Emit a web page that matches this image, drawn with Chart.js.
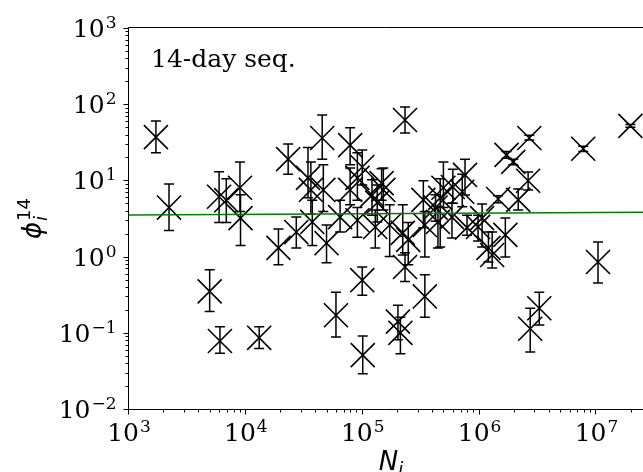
<!DOCTYPE html>
<html lang="en">
<head>
<meta charset="UTF-8">
<title>phi_i^14 vs N_i</title>
<script src="https://cdn.jsdelivr.net/npm/chart.js"></script>
<style>
    body { margin: 0; background: #fff; }
    .chart-container { position: relative; width: 643px; height: 472px; }
</style>
</head>
<body>
<div class="chart-container">
    <canvas id="chart"></canvas>
</div>
<script>
// N_i and phi_i^14, plus lower / upper end of each error bar
var N = [1.7e3, 2.2e3, 4.9e3, 6.0e3, 1.3e4, 5.9e3, 6.8e3, 8.9e3, 9.0e3, 1.9e4,
         2.3e4, 4.5e4, 7.8e4, 2.3e5, 3.4e4, 3.6e4, 4.6e4, 2.7e4, 3.7e4, 4.9e4,
         6.4e4, 9.0e4, 9.0e4, 9.9e4, 7.8e4, 1.2e5, 1.5e5, 1.33e5, 1.7e5, 1.28e5,
         2.2e5, 2.3e5, 9.9e4, 5.9e4, 1.0e5, 2.0e5, 2.1e5, 3.4e5, 1.7e6, 1.94e6,
         2.66e6, 7.7e6, 1.95e7, 2.6e6, 2.14e6, 1.44e6, 1.66e6, 1.28e6, 1.19e6, 1.03e7,
         3.24e6, 2.71e6, 7.5e5, 3.3e5, 4.6e5, 4.9e5, 5.9e5, 7.1e5, 7.8e5, 1.05e6,
         2.45e5, 3.4e5, 4.4e5, 5.8e5, 4.2e5, 9.7e5, 1.45e5];
var phi = [37, 4.4, 0.35, 0.078, 0.086, 6.1, 5.5, 8.0, 3.2, 1.3,
           19, 36, 29, 62, 10.8, 7.5, 7.5, 2.1, 2.85, 1.5,
           3.3, 3.0, 10.8, 15, 7.5, 6.4, 7.5, 5.1, 2.6, 2.45,
           2.05, 0.73, 0.49, 0.17, 0.051, 0.14, 0.10, 0.30, 21.6, 17.5,
           36, 26, 52, 9.9, 5.55, 5.7, 1.93, 1.05, 1.3, 0.85,
           0.21, 0.113, 11.8, 5.55, 5.9, 8.0, 8.2, 7.1, 2.4, 3.2,
           1.66, 2.6, 2.85, 3.3, 4.4, 2.45, 9.2];
var phiLow = [23, 2.2, 0.19, 0.054, 0.062, 2.8, 2.8, 3.9, 1.4, 0.78,
              12, 19, 16, 42, 5.9, 3.6, 3.9, 1.3, 1.4, 0.83,
              2.1, 1.8, 5.5, 8.7, 4.8, 3.5, 4.1, 2.85, 1.0, 1.3,
              1.05, 0.47, 0.31, 0.088, 0.029, 0.081, 0.053, 0.16, 19.5, 16,
              34, 24, 50, 7.5, 4.1, 5.1, 0.99, 0.71, 0.85, 0.45,
              0.127, 0.056, 6.45, 2.4, 1.34, 4.4, 5.0, 4.5, 1.9, 1.34,
              0.78, 0.99, 1.3, 1.76, 2.9, 1.6, 5.5];
var phiHigh = [60, 9.0, 0.67, 0.12, 0.12, 13, 10.5, 17.5, 6.5, 2.3,
               30, 72, 49, 92, 27, 17.5, 16, 3.3, 5.5, 2.6,
               5.5, 4.4, 23, 25, 14.6, 10.2, 14.6, 8.7, 4.8, 4.1,
               4.8, 1.12, 0.73, 0.34, 0.091, 0.23, 0.16, 0.58, 24, 19,
               39, 28, 54, 12.9, 7.7, 6.3, 3.2, 2.1, 2.1, 1.56,
               0.34, 0.21, 19, 9.9, 10.5, 17.5, 14, 12, 3.5, 4.9,
               2.8, 3.9, 4.5, 5.0, 6.5, 3.5, 14.2];

// fitted line, end points
var fitN = [1e3, 2.5e7];
var fitPhi = [3.52, 3.83];

// decade exponents for the tick labels
var xExp = [3, 4, 5, 6, 7];
var yExp = [-2, -1, 0, 1, 2, 3];

var points = N.map(function(n, i) { return { x: n, y: phi[i] }; });
var fitLine = fitN.map(function(n, i) { return { x: n, y: fitPhi[i] }; });

function drawPow(ctx, exp, x, y, align) {
    var base = '10';
    var sup = (exp < 0 ? '\u2212' : '') + Math.abs(exp);
    ctx.font = '25px "DejaVu Serif"';
    var wb = ctx.measureText(base).width;
    ctx.font = '17px "DejaVu Serif"';
    var ws = ctx.measureText(sup).width;
    var w = wb + 1 + ws;
    var x0 = align === 'right' ? x - w : x - w / 2;
    ctx.textAlign = 'left';
    ctx.textBaseline = 'alphabetic';
    ctx.font = '25px "DejaVu Serif"';
    ctx.fillText(base, x0, y);
    ctx.font = '17px "DejaVu Serif"';
    ctx.fillText(sup, x0 + wb + 1, y - 9);
}

// error bars with caps, under the markers
var errorBars = {
    id: 'errorBars',
    beforeDatasetsDraw: function(chart) {
        var ctx = chart.ctx, xs = chart.scales.x, ys = chart.scales.y;
        ctx.save();
        ctx.strokeStyle = '#000';
        ctx.lineWidth = 1.5;
        for (var i = 0; i < N.length; i++) {
            var px = xs.getPixelForValue(N[i]);
            var y1 = ys.getPixelForValue(phiLow[i]);
            var y2 = ys.getPixelForValue(phiHigh[i]);
            ctx.beginPath();
            ctx.moveTo(px, y1); ctx.lineTo(px, y2);
            ctx.moveTo(px - 5, y1); ctx.lineTo(px + 5, y1);
            ctx.moveTo(px - 5, y2); ctx.lineTo(px + 5, y2);
            ctx.stroke();
        }
        ctx.restore();
    }
};

// spines, log ticks, labels and the annotation
var axesDecor = {
    id: 'axesDecor',
    afterDraw: function(chart) {
        var ctx = chart.ctx, xs = chart.scales.x, ys = chart.scales.y, a = chart.chartArea;
        var L = Math.round(a.left) - 0.5, B = Math.round(a.bottom) + 0.5, T = Math.round(a.top) - 0.5;
        ctx.save();
        ctx.strokeStyle = '#000';
        ctx.lineWidth = 1;
        ctx.beginPath();
        ctx.moveTo(L, T); ctx.lineTo(L, B); ctx.lineTo(a.right, B);
        ctx.moveTo(L, T); ctx.lineTo(a.right, T);
        ctx.stroke();

        // x ticks
        ctx.beginPath();
        for (var e = 3; e <= 7; e++) {
            for (var m = 1; m <= 9; m++) {
                var v = m * Math.pow(10, e);
                if (v > xs.max) break;
                var px = Math.round(xs.getPixelForValue(v)) - 0.5;
                ctx.moveTo(px, B); ctx.lineTo(px, B + (m === 1 ? 5 : 3));
            }
        }
        // y ticks
        for (var e2 = -2; e2 <= 3; e2++) {
            for (var m2 = 1; m2 <= 9; m2++) {
                var v2 = m2 * Math.pow(10, e2);
                if (v2 > ys.max) break;
                var py = Math.round(ys.getPixelForValue(v2)) + 0.5;
                ctx.moveTo(L, py); ctx.lineTo(L - (m2 === 1 ? 5 : 3), py);
            }
        }
        ctx.stroke();

        ctx.fillStyle = '#000';
        xExp.forEach(function(e) {
            drawPow(ctx, e, xs.getPixelForValue(Math.pow(10, e)), B + 31, 'center');
        });
        yExp.forEach(function(e) {
            drawPow(ctx, e, L - 12, ys.getPixelForValue(Math.pow(10, e)) + 9, 'right');
        });

        // annotation
        ctx.font = '25px "DejaVu Serif"';
        ctx.textAlign = 'left';
        ctx.fillText('14-day seq.', a.left + 22, a.top + 39);

        // x label N_i
        ctx.font = 'italic 26px "DejaVu Sans"';
        var wN = ctx.measureText('N').width;
        ctx.font = 'italic 18px "DejaVu Sans"';
        var wi = ctx.measureText('i').width;
        var xl = 391 - (wN + wi) / 2;
        ctx.font = 'italic 26px "DejaVu Sans"';
        ctx.fillText('N', xl, 470);
        ctx.font = 'italic 18px "DejaVu Sans"';
        ctx.fillText('i', xl + wN, 475);

        // y label phi_i^14, rotated
        ctx.translate(41, (a.top + a.bottom) / 2);
        ctx.rotate(-Math.PI / 2);
        ctx.font = 'italic 26px "DejaVu Sans"';
        var wp = ctx.measureText('\u03D5').width;
        ctx.font = '18px "DejaVu Sans"';
        var w14 = ctx.measureText('14').width;
        var x0 = -(wp + 1 + w14) / 2;
        ctx.font = 'italic 26px "DejaVu Sans"';
        ctx.fillText('\u03D5', x0, 0);
        ctx.font = '18px "DejaVu Sans"';
        ctx.fillText('14', x0 + wp + 1, -11);
        ctx.font = 'italic 18px "DejaVu Sans"';
        ctx.fillText('i', x0 + wp + 1, 6);
        ctx.restore();
    }
};

var chart = new Chart(document.getElementById('chart').getContext('2d'), {
    type: 'scatter',
    data: {
        datasets: [
            {
                label: 'fit',
                data: fitLine,
                showLine: true,
                borderColor: '#008000',
                borderWidth: 1.5,
                pointRadius: 0,
                order: 0
            },
            {
                label: 'phi',
                data: points,
                pointStyle: 'crossRot',
                pointRadius: 17,
                pointBorderWidth: 1.6,
                borderColor: '#000',
                backgroundColor: 'transparent',
                clip: false,
                order: 1
            }
        ]
    },
    options: {
        responsive: true,
        maintainAspectRatio: false,
        animation: false,
        layout: { autoPadding: false, padding: { left: 129, top: 28, right: 0, bottom: 63 } },
        plugins: { legend: { display: false }, tooltip: { enabled: false } },
        scales: {
            x: { type: 'logarithmic', min: 1e3, max: 2.5e7, display: false },
            y: { type: 'logarithmic', min: 0.01, max: 1000, display: false }
        }
    },
    plugins: [errorBars, axesDecor]
});
</script>
</body>
</html>
